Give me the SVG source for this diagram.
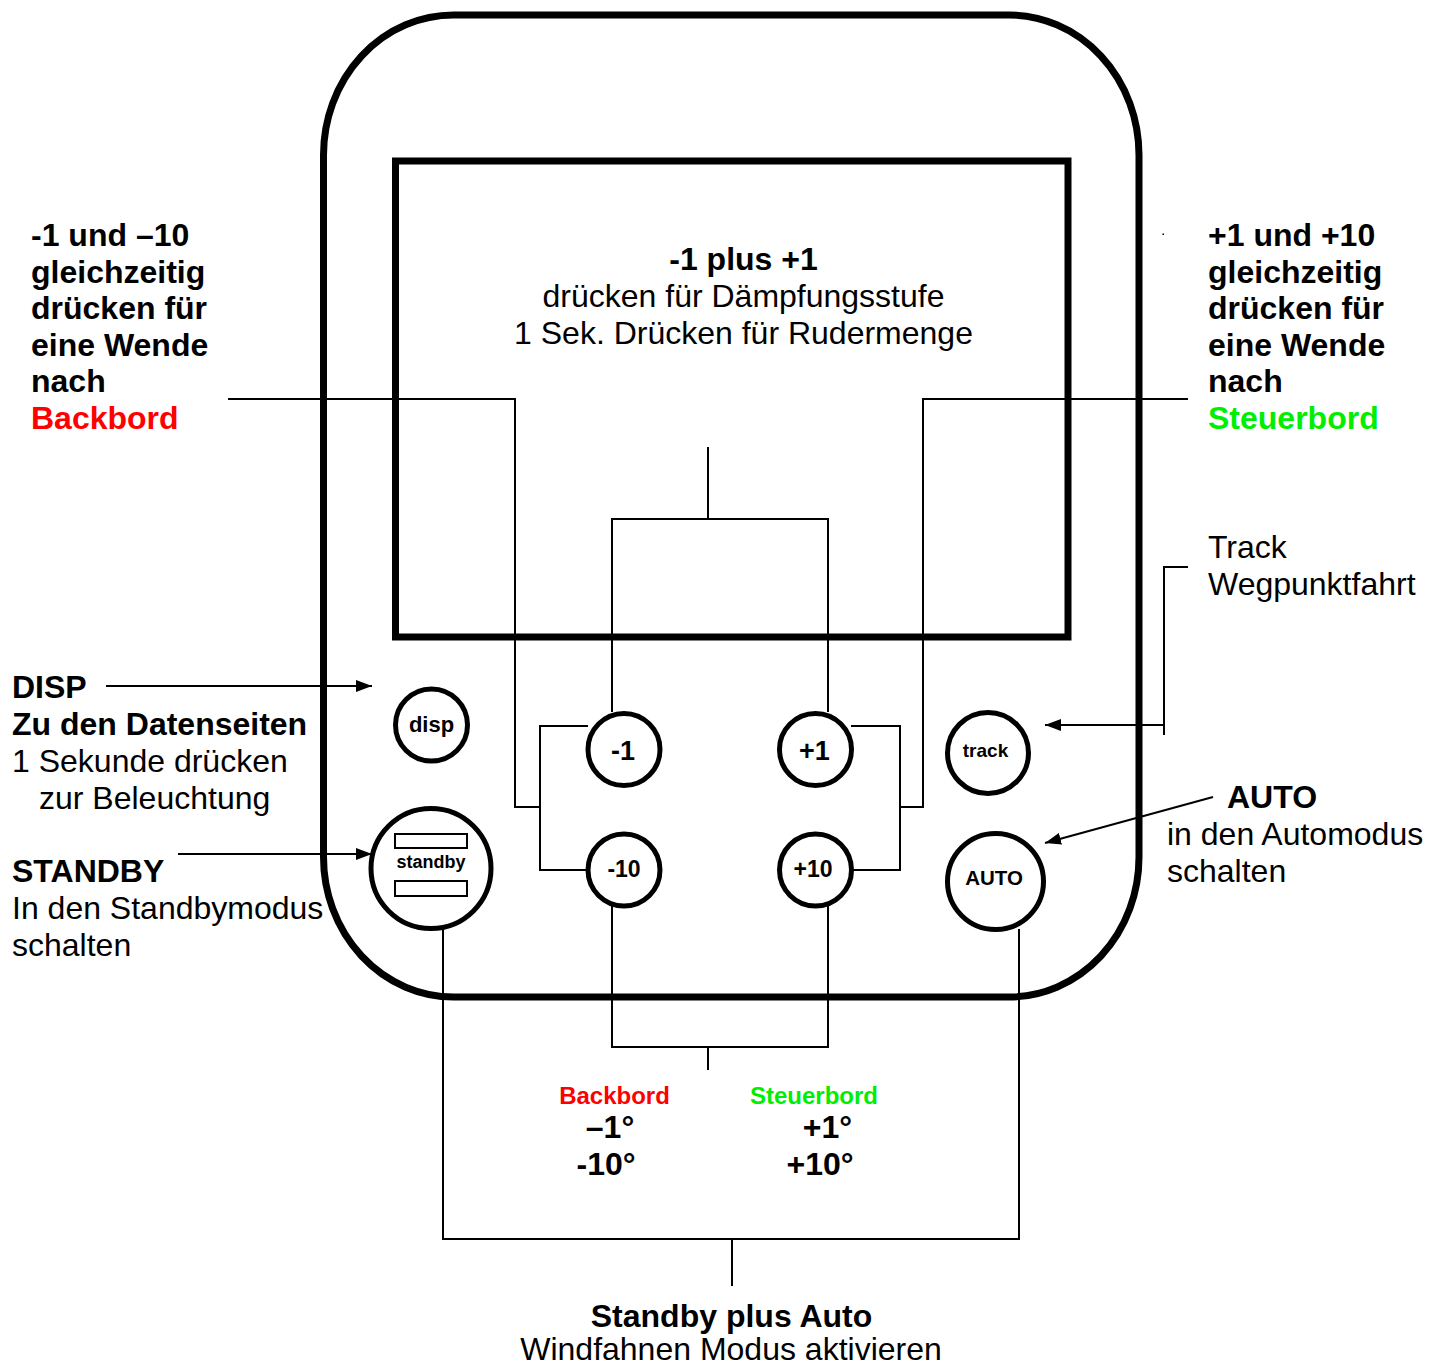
<svg xmlns="http://www.w3.org/2000/svg" width="1442" height="1363" viewBox="0 0 1442 1363">
<defs>
<style>
text{font-family:"Liberation Sans",Arial,sans-serif;fill:#000}
.t{font-size:32px}
.b{font-weight:bold}
.btn{font-weight:bold;text-anchor:middle}
.c{text-anchor:middle}
.ln{fill:none;stroke:#000;stroke-width:2}
.ring{fill:#fff;stroke:#000;stroke-width:5}
.red{fill:#ff0000}
.grn{fill:#00ee00}
</style>
<marker id="ah" viewBox="0 0 16 12" refX="16" refY="6" markerWidth="16" markerHeight="12" markerUnits="userSpaceOnUse" orient="auto">
<path d="M0,0 L16,6 L0,12 Z" fill="#000"/>
</marker>
</defs>
<rect width="1442" height="1363" fill="#fff"/>
<g id="device">
<rect x="323.5" y="15" width="815.5" height="982" rx="130" ry="140" fill="none" stroke="#000" stroke-width="7"/>
<rect id="screen" x="395.5" y="161" width="672.5" height="476" fill="none" stroke="#000" stroke-width="7"/>
</g>
<g id="connectors">
<path class="ln" d="M228,399 H515 V807 H540"/>
<path class="ln" d="M588,726 H540 V870 H588"/>
<path class="ln" d="M1188,399 H923 V807 H900"/>
<path class="ln" d="M851,726 H900 V870 H853"/>
<path class="ln" d="M708,447 V519 M612,712 V519 H828 V712"/>
<path class="ln" d="M612,906 V1047 H828 V906 M708,1047 V1070"/>
<path class="ln" d="M443,928 V1239 H1019 V929 M732,1239 V1286"/>
<path class="ln" d="M106,686 H372" marker-end="url(#ah)"/>
<path class="ln" d="M178,854 H372" marker-end="url(#ah)"/>
<path class="ln" d="M1188,567 H1164 V735 M1164,725 H1045" marker-end="url(#ah)"/>
<path class="ln" d="M1213,797 L1045,843" marker-end="url(#ah)"/>
</g>
<g id="btn-disp"><circle class="ring" cx="431.5" cy="725" r="36"/><text class="btn" x="431.5" y="732" font-size="22">disp</text></g>
<g id="btn-standby"><circle class="ring" cx="431" cy="868.5" r="60"/>
<rect x="395" y="834" width="72" height="14" fill="none" stroke="#000" stroke-width="2"/>
<rect x="395" y="881" width="72" height="15" fill="none" stroke="#000" stroke-width="2"/>
<text class="btn" x="431" y="868" font-size="18">standby</text></g>
<g id="btn-m1"><circle class="ring" cx="624" cy="749.5" r="36"/><text class="btn" x="623" y="760" font-size="27">-1</text></g>
<g id="btn-p1"><circle class="ring" cx="815.5" cy="749.5" r="36"/><text class="btn" x="814.5" y="760" font-size="27">+1</text></g>
<g id="btn-m10"><circle class="ring" cx="624" cy="870" r="36"/><text class="btn" x="624" y="877" font-size="23">-10</text></g>
<g id="btn-p10"><circle class="ring" cx="815.5" cy="870" r="36"/><text class="btn" x="813" y="877" font-size="23">+10</text></g>
<g id="btn-track"><circle class="ring" cx="988" cy="753" r="40.5"/><text class="btn" x="985.5" y="757" font-size="19">track</text></g>
<g id="btn-auto"><circle class="ring" cx="995.5" cy="881.5" r="48"/><text class="btn" x="994" y="885" font-size="20.5">AUTO</text></g>
<g id="label-minus">
<text class="t b" x="31" y="246">-1 und –10</text>
<text class="t b" x="31" y="282.6">gleichzeitig</text>
<text class="t b" x="31" y="319.2">drücken für</text>
<text class="t b" x="31" y="355.8">eine Wende</text>
<text class="t b" x="31" y="392.4">nach</text>
<text class="t b red" x="31" y="429">Backbord</text>
</g>
<g id="label-plus">
<rect x="1162.5" y="233.5" width="1.5" height="1.5" fill="#000"/>
<text class="t b" x="1208" y="246">+1 und +10</text>
<text class="t b" x="1208" y="282.6">gleichzeitig</text>
<text class="t b" x="1208" y="319.2">drücken für</text>
<text class="t b" x="1208" y="355.8">eine Wende</text>
<text class="t b" x="1208" y="392.4">nach</text>
<text class="t b grn" x="1208" y="429">Steuerbord</text>
</g>
<g id="label-center">
<text class="t b c" x="743.5" y="270">-1 plus +1</text>
<text class="t c" x="743.5" y="307">drücken für Dämpfungsstufe</text>
<text class="t c" x="743.5" y="344">1 Sek. Drücken für Rudermenge</text>
</g>
<g id="label-disp">
<text class="t b" x="12" y="698">DISP</text>
<text class="t b" x="12" y="735">Zu den Datenseiten</text>
<text class="t" x="12" y="772">1 Sekunde drücken</text>
<text class="t" x="39" y="809">zur Beleuchtung</text>
</g>
<g id="label-standby">
<text class="t b" x="12" y="882">STANDBY</text>
<text class="t" x="12" y="919">In den Standbymodus</text>
<text class="t" x="12" y="956">schalten</text>
</g>
<g id="label-track">
<text class="t" x="1208" y="558">Track</text>
<text class="t" x="1208" y="595">Wegpunktfahrt</text>
</g>
<g id="label-auto">
<text class="t b" x="1227" y="808">AUTO</text>
<text class="t" x="1167" y="845">in den Automodus</text>
<text class="t" x="1167" y="882">schalten</text>
</g>
<g id="label-degrees">
<text class="b red c" x="614.5" y="1104" font-size="24">Backbord</text>
<text class="b grn c" x="814" y="1104" font-size="24">Steuerbord</text>
<text class="t b c" x="610" y="1138">–1°</text>
<text class="t b c" x="606" y="1175">-10°</text>
<text class="t b c" x="827.5" y="1138">+1°</text>
<text class="t b c" x="820" y="1175">+10°</text>
</g>
<g id="label-bottom">
<text class="t b c" x="731.5" y="1327">Standby plus Auto</text>
<text class="t c" x="731" y="1360">Windfahnen Modus aktivieren</text>
</g>
</svg>
